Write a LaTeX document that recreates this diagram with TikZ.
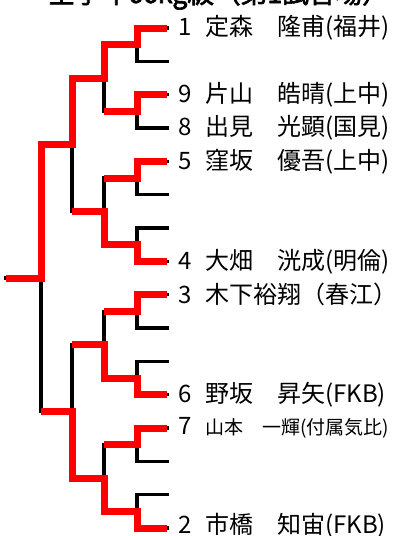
\documentclass[tikz,border=0pt]{standalone}
\usepackage{fontspec}
\usetikzlibrary{positioning}
\setmainfont{Noto Sans CJK JP}
\newfontfamily\titlefont[FakeBold=2.5]{Noto Sans CJK JP}
\definecolor{winred}{RGB}{255,0,0}
\newcommand{\entry}[2]{\makebox[20.25pt][l]{#1}#2}

\begin{document}
\begin{tikzpicture}[x=0.75pt,y=0.75pt,yscale=-1,xscale=1,
  lose/.style={draw=black,line width=2.4pt,line cap=rect},
  win/.style={draw=winred,line width=5.25pt,line join=miter},
  player/.style={anchor=west,inner sep=0pt,font=\fontsize{18}{20}\selectfont}]
\clip (0,0) rectangle (399,536);

% Title (cut at the top)
\node [anchor=base west,inner sep=0pt,font=\titlefont\fontsize{20}{22}\selectfont] (title) at (48,3) {全学年66kg級（第1試合場）};

% Slots and match points
\foreach \i in {0,...,15}{
  \pgfmathsetmacro\yy{28+33.333*\i}
  \coordinate (t\i) at (167,\yy);
  \coordinate (o0-\i) at (137,\yy);
}
\foreach \k/\xx/\n in {1/104/7,2/72/3,3/41/1,4/6/0}{
  \foreach \j in {0,...,\n}{
    \pgfmathsetmacro\yy{28+33.333*(2^\k*\j+(2^\k-1)/2)}
    \coordinate (o\k-\j) at (\xx,\yy);
  }
}

% Bracket lines
\foreach \i in {0,...,15} \draw [lose] (t\i) -- (o0-\i);
\foreach \k/\n in {1/7,2/3,3/1,4/0}{
  \foreach \j in {0,...,\n}{
    \pgfmathtruncatemacro\p{\k-1}
    \pgfmathtruncatemacro\a{2*\j}
    \pgfmathtruncatemacro\b{2*\j+1}
    \draw [lose] (o\p-\a) |- (o\k-\j);
    \draw [lose] (o\p-\b) |- (o\k-\j);
  }
}

% Winners
\draw [win] (t0) -- (o0-0) |- (o1-0) |- (o2-0) |- (o3-0) |- (o4-0);
\draw [win] (t2) -- (o0-2) |- (o1-1);
\draw [win] (t4) -- (o0-4) |- (o1-2);
\draw [win] (t7) -- (o0-7) |- (o1-3) |- (o2-1);
\draw [win] (t8) -- (o0-8) |- (o1-4);
\draw [win] (t11) -- (o0-11) |- (o1-5) |- (o2-2);
\draw [win] (t12) -- (o0-12) |- (o1-6);
\draw [win] (t15) -- (o0-15) |- (o1-7) |- (o2-3) |- (o3-1);

% Text Node
\node [player,right=8.25pt of t0] (p1) {\entry{1}{定森　隆甫(福井)}};
\node [player,right=8.25pt of t2] (p9) {\entry{9}{片山　皓晴(上中)}};
\node [player,right=8.25pt of t3] (p8) {\entry{8}{出見　光顕(国見)}};
\node [player,right=8.25pt of t4] (p5) {\entry{5}{窪坂　優吾(上中)}};
\node [player,right=8.25pt of t7] (p4) {\entry{4}{大畑　洸成(明倫)}};
\node [player,right=8.25pt of t8] (p3) {\entry{3}{木下裕翔（春江）}};
\node [player,right=8.25pt of t11] (p6) {\entry{6}{野坂　昇矢(FKB)}};
\node [player,right=8.25pt of t12] (p7) {\entry{7}{\fontsize{14.25}{16}\selectfont 山本　一輝(付属気比)}};
\node [player,right=8.25pt of t15,yshift=1.8pt] (p2) {\entry{2}{市橋　知宙(FKB)}};

\end{tikzpicture}
\end{document}
